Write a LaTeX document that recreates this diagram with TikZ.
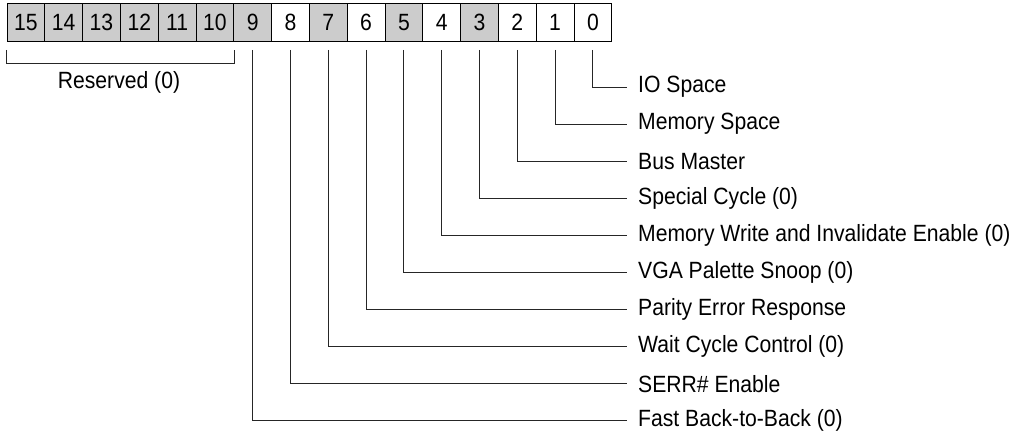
\documentclass[tikz,border=0pt]{standalone}
\usepackage{fontspec}
\setmainfont{Liberation Sans}[FakeStretch=0.90]
\begin{document}
\begin{tikzpicture}[x=1pt,y=-1pt,
  bitcell/.style={draw=black,line width=1pt,minimum width=37.8pt,minimum height=38pt,inner sep=0pt,anchor=north west,font=\fontsize{23.5}{28}\selectfont},
  graycell/.style={bitcell,fill=black!20},
  whitecell/.style={bitcell,fill=white},
  lbl/.style={anchor=west,inner sep=0pt,font=\fontsize{23.5}{28}\selectfont},
  conn/.style={draw=black!85,line width=1pt}]
\useasboundingbox (0,0) rectangle (1016,436);
\foreach \k/\s in {15/graycell,14/graycell,13/graycell,12/graycell,11/graycell,10/graycell,9/graycell,8/whitecell,7/graycell,6/whitecell,5/graycell,4/whitecell,3/graycell,2/whitecell,1/whitecell,0/whitecell}{
  \node[\s] (b\k) at ({6.5+37.8*(15-\k)},3) {\k};
}
\foreach \k/\t in {0/IO Space,1/Memory Space,2/Bus Master,3/Special Cycle (0),4/Memory Write and Invalidate Enable (0),5/VGA Palette Snoop (0),6/Parity Error Response,7/Wait Cycle Control (0),8/SERR\# Enable,9/Fast Back-to-Back (0)}{
  \node[lbl] (l\k) at (638,{87+37.1*\k}) {\t};
  \draw[conn] ([yshift=-8pt]b\k.south) |- ([xshift=-11pt]l\k.west);
}
\node[lbl,anchor=center] (res) at (119,82) {Reserved (0)};
\draw[conn] ([yshift=-8pt]b15.south west) -- ([yshift=-21pt]b15.south west) -- ([yshift=-21pt]b10.south east) -- ([yshift=-8pt]b10.south east);
\end{tikzpicture}
\end{document}
